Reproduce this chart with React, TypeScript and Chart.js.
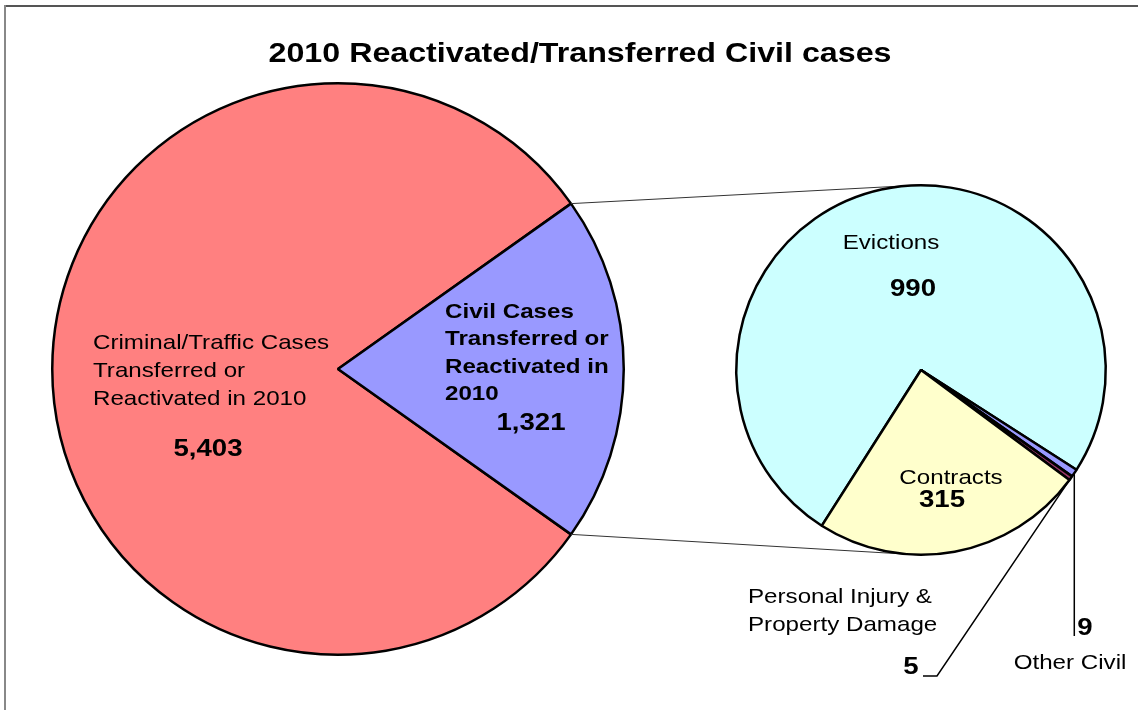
import React, { useEffect, useRef } from "react";
import { Chart, registerables } from "chart.js";

Chart.register(...registerables);

const chartTitle = "2010 Reactivated/Transferred Civil cases";
const mainLabels = ["Criminal/Traffic Cases Transferred or Reactivated in 2010", "Civil Cases Transferred or Reactivated in 2010"];
const mainValues = [5403, 1321];
const mainColors = ["#FF8080", "#9999FF"];
const subLabels = ["Evictions", "Other Civil", "Personal Injury & Property Damage", "Contracts"];
const subValues = [990, 9, 5, 315];
const subColors = ["#CCFFFF", "#9999FF", "#993366", "#FFFFCC"];

const W = 1138;
const H = 710;
const FONT = "'Liberation Sans', Arial, sans-serif";
const SX = 1.15;
const SUB_CX = 921;
const SUB_CY = 370;
const SUB_R = 185;

const fmt = (v: number) => v.toLocaleString("en-US");

function txt(ctx: CanvasRenderingContext2D, t: string, x: number, y: number, align: CanvasTextAlign, font: string) {
  ctx.save();
  ctx.translate(x, y);
  ctx.scale(SX, 1);
  ctx.font = font;
  ctx.textAlign = align;
  ctx.textBaseline = "middle";
  ctx.fillStyle = "#000";
  ctx.fillText(t, 0, 0);
  ctx.restore();
}

const NORMAL = `21px ${FONT}`;
const BOLDNUM = `bold 24px ${FONT}`;

const mainPlugin = {
  id: "mainDeco",
  afterDraw(chart: any) {
    const ctx = chart.ctx as CanvasRenderingContext2D;
    ctx.save();
    // frame
    ctx.lineWidth = 2;
    ctx.strokeStyle = "#555555";
    ctx.beginPath();
    ctx.moveTo(4, 6);
    ctx.lineTo(W, 6);
    ctx.stroke();
    ctx.strokeStyle = "#888888";
    ctx.beginPath();
    ctx.moveTo(5, 5);
    ctx.lineTo(5, H);
    ctx.stroke();

    // title
    txt(ctx, chartTitle, 580, 54, "center", `bold 28px ${FONT}`);

    // connector lines from civil slice edges to sub pie
    const arc = chart.getDatasetMeta(0).data[1] as any;
    const { x, y, outerRadius, startAngle, endAngle } = arc.getProps(["x", "y", "outerRadius", "startAngle", "endAngle"], true);
    ctx.strokeStyle = "#333";
    ctx.lineWidth = 1;
    ctx.beginPath();
    ctx.moveTo(x + outerRadius * Math.cos(startAngle), y + outerRadius * Math.sin(startAngle));
    ctx.lineTo(SUB_CX, SUB_CY - SUB_R);
    ctx.moveTo(x + outerRadius * Math.cos(endAngle), y + outerRadius * Math.sin(endAngle));
    ctx.lineTo(SUB_CX, SUB_CY + SUB_R);
    ctx.stroke();
    ctx.restore();

    // labels
    ["Criminal/Traffic Cases", "Transferred or", "Reactivated in 2010"].forEach((t, i) => {
      txt(ctx, t, 93, 343 + i * 28, "left", NORMAL);
    });
    txt(ctx, fmt(mainValues[0]), 208, 449, "center", BOLDNUM);

    ["Civil Cases", "Transferred or", "Reactivated in", "2010"].forEach((t, i) => {
      txt(ctx, t, 445, 312 + i * 27.5, "left", `bold 21px ${FONT}`);
    });
    txt(ctx, fmt(mainValues[1]), 531, 423, "center", BOLDNUM);
  },
};

const subPlugin = {
  id: "subDeco",
  afterDraw(chart: any) {
    const ctx = chart.ctx as CanvasRenderingContext2D;
    const data = chart.getDatasetMeta(0).data as any[];
    const mid = (i: number) => {
      const p = data[i].getProps(["x", "y", "outerRadius", "startAngle", "endAngle"], true);
      const a = (p.startAngle + p.endAngle) / 2;
      return { x: p.x + p.outerRadius * Math.cos(a), y: p.y + p.outerRadius * Math.sin(a) };
    };
    txt(ctx, subLabels[0], 891, 243, "center", NORMAL);
    txt(ctx, fmt(subValues[0]), 913, 289, "center", BOLDNUM);
    txt(ctx, subLabels[3], 951, 478, "center", NORMAL);
    txt(ctx, fmt(subValues[3]), 942, 500, "center", BOLDNUM);

    // Personal Injury
    txt(ctx, "Personal Injury &", 748, 597, "left", NORMAL);
    txt(ctx, "Property Damage", 748, 625, "left", NORMAL);
    txt(ctx, fmt(subValues[2]), 911, 667, "center", BOLDNUM);
    const pi = mid(2);
    ctx.save();
    ctx.strokeStyle = "#000";
    ctx.lineWidth = 1.5;
    ctx.beginPath();
    ctx.moveTo(923, 676);
    ctx.lineTo(937, 676);
    ctx.lineTo(pi.x, pi.y);
    ctx.stroke();

    // Other civil
    const oc = mid(1);
    ctx.beginPath();
    ctx.moveTo(oc.x, oc.y);
    ctx.lineTo(oc.x, 636);
    ctx.stroke();
    ctx.restore();
    txt(ctx, fmt(subValues[1]), oc.x + 3, 628, "left", BOLDNUM);
    txt(ctx, subLabels[1], 1070, 663, "center", NORMAL);
  },
};

export default function App() {
  const mainRef = useRef<HTMLCanvasElement>(null);
  const subRef = useRef<HTMLCanvasElement>(null);

  useEffect(() => {
    if (!mainRef.current || !subRef.current) return;
    const mainTotal = mainValues.reduce((a, b) => a + b, 0);
    const civilFrac = mainValues[1] / mainTotal;
    const main = new Chart(mainRef.current, {
      type: "pie",
      data: {
        labels: mainLabels,
        datasets: [{ data: mainValues, backgroundColor: mainColors, borderColor: "#000", borderWidth: 2.5 }],
      },
      options: {
        animation: false,
        responsive: false,
        events: [],
        rotation: 90 + civilFrac * 180,
        layout: { padding: { left: 51, right: 513, top: 82, bottom: 54 } },
        plugins: { legend: { display: false }, tooltip: { enabled: false }, title: { display: false } },
      },
      plugins: [mainPlugin],
    });
    const sub = new Chart(subRef.current, {
      type: "pie",
      data: {
        labels: subLabels,
        datasets: [{ data: subValues, backgroundColor: subColors, borderColor: "#000", borderWidth: 2.5 }],
      },
      options: {
        animation: false,
        responsive: false,
        events: [],
        rotation: 212.5,
        layout: {
          padding: {
            left: SUB_CX - SUB_R - 1,
            top: SUB_CY - SUB_R - 1,
            right: W - (SUB_CX + SUB_R + 1),
            bottom: H - (SUB_CY + SUB_R + 1),
          },
        },
        plugins: { legend: { display: false }, tooltip: { enabled: false }, title: { display: false } },
      },
      plugins: [subPlugin],
    });
    return () => {
      main.destroy();
      sub.destroy();
    };
  }, []);

  return (
    <div style={{ position: "fixed", left: 0, top: 0, width: W, height: H, background: "#fff", overflow: "hidden" }}>
      <canvas ref={mainRef} width={W} height={H} style={{ position: "absolute", left: 0, top: 0 }} />
      <canvas ref={subRef} width={W} height={H} style={{ position: "absolute", left: 0, top: 0 }} />
    </div>
  );
}
